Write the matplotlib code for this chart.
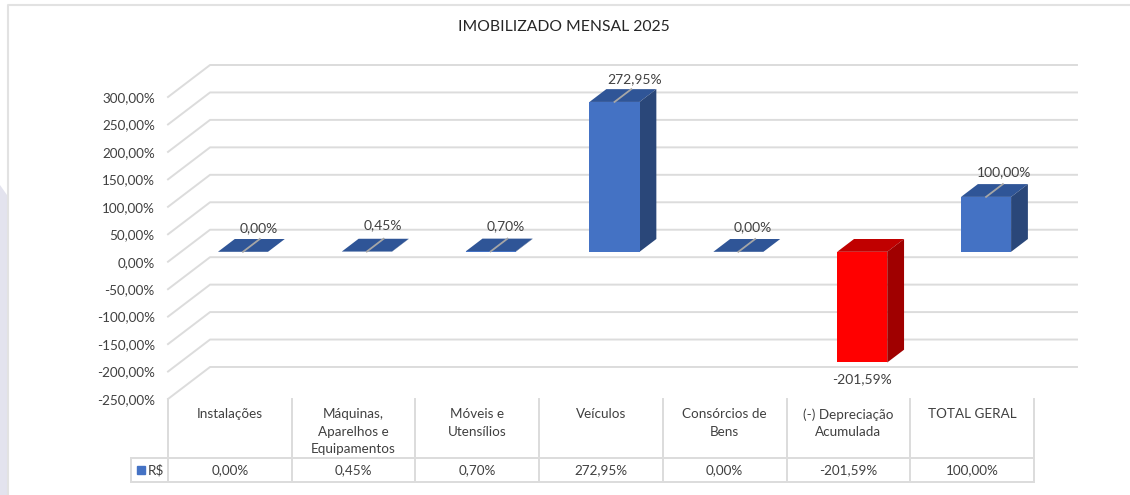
import matplotlib
matplotlib.use("Agg")
import matplotlib.pyplot as plt
from matplotlib.lines import Line2D
from matplotlib.patches import Polygon

plt.rcParams["font.family"] = ["Lato", "DejaVu Sans"]

# dados
categorias = ["Instalações", "Máquinas,\nAparelhos e\nEquipamentos", "Móveis e\nUtensílios",
              "Veículos", "Consórcios de\nBens", "(-) Depreciação\nAcumulada", "TOTAL GERAL"]
valores = [0.00, 0.45, 0.70, 272.95, 0.00, -201.59, 100.00]
rotulos = ["0,00%", "0,45%", "0,70%", "272,95%", "0,00%", "-201,59%", "100,00%"]
y_ticks = [300, 250, 200, 150, 100, 50, 0, -50, -100, -150, -200, -250]
y_labels = ["300,00%", "250,00%", "200,00%", "150,00%", "100,00%", "50,00%", "0,00%",
            "-50,00%", "-100,00%", "-150,00%", "-200,00%", "-250,00%"]
# deslocamento dos rotulos em pixels
rot_dx = [-1, -1, -2, 3, -2, -17, 1]
rot_dy = [11, 14, 12, 10, 12, -29, 12]

W, H = 1130, 495
TXT = "#404040"
GRADE = "#dcdcdc"
FS = 9.7

# perspectiva: quanto o fundo do grafico anda em x e y
DX = 42 / 123.7
DY = 58.3
D0, D1 = 0.31, 0.71
LARG = 0.404


def caixa(esq, topo, dir, base):
    return [esq / W, 1 - base / H, (dir - esq) / W, (base - topo) / H]


def proj(x, y, d):
    return x + d * DX, y + d * DY


fig = plt.figure(figsize=(W / 100, H / 100), dpi=100)

# moldura e fundo lilas da esquerda
fig.add_artist(Polygon([(0, 1 - 185 / H), (7 / W, 1 - 195 / H), (7 / W, 0), (0, 0)],
                       closed=True, fc="#e3e3ee", ec="none", transform=fig.transFigure))
fig.add_artist(Line2D([7.5 / W, 7.5 / W, 1], [0, 1 - 5 / H, 1 - 5 / H], color="#e2e2e2", lw=1.5))

ax = fig.add_axes(caixa(168, 65, 1077, 399))
ax.set_xlim(-0.5, 6.5 + DX)
ax.set_ylim(-250, 300 + DY)
ax.patch.set_alpha(0)
for s in ax.spines.values():
    s.set_visible(False)
ax.set_xticks([])
ax.set_yticks(y_ticks)
ax.set_yticklabels(y_labels, fontsize=FS, color=TXT)
ax.tick_params(axis="y", length=0, pad=9.5)

# grade
for t in y_ticks:
    xb, yb = proj(-0.5, t, 1)
    ax.plot([-0.5, xb, 6.5 + DX], [t, yb, yb], color=GRADE, lw=1.4, clip_on=False, zorder=1)

# barras 3d
for i, v in enumerate(valores):
    frente, topo, lado = "#4472c4", "#2f5597", "#2a4779"
    if v < 0:
        frente, topo, lado = "#ff0000", "#c00000", "#a00000"
    e = i - LARG / 2
    d = i + LARG / 2
    t = max(v, 0)  # a tampa fica sempre no lado de cima da barra
    ax.fill([proj(e, t, D0)[0], proj(d, t, D0)[0], proj(d, t, D1)[0], proj(e, t, D1)[0]],
            [proj(e, t, D0)[1], proj(d, t, D0)[1], proj(d, t, D1)[1], proj(e, t, D1)[1]],
            color=topo, lw=0, zorder=3)
    ax.fill([proj(d, 0, D0)[0], proj(d, 0, D1)[0], proj(d, v, D1)[0], proj(d, v, D0)[0]],
            [proj(d, 0, D0)[1], proj(d, 0, D1)[1], proj(d, v, D1)[1], proj(d, v, D0)[1]],
            color=lado, lw=0, zorder=3)
    ax.bar(i + D0 * DX, v, bottom=D0 * DY, width=LARG, color=frente, lw=0, zorder=4)
    # linha guia e rotulo
    x0, y0 = proj(i, v, D0)
    x1, y1 = proj(i, v, D1)
    if v >= 0:
        ax.plot([x0, x1], [y0, y1], color="#a6a6a6", lw=1.3, zorder=5)
    ax.annotate(rotulos[i], (x1, y1), xytext=(rot_dx[i] * 0.72, rot_dy[i] * 0.72),
                textcoords="offset points", ha="center", va="center",
                fontsize=10, color=TXT, zorder=6)

fig.text(563.5 / W, 1 - 27 / H, "IMOBILIZADO MENSAL 2025", ha="center", va="center",
         fontsize=11.3, color="#262626")

# tabela de dados
tb = fig.add_axes(caixa(131, 399, 1034, 482))
tb.set_xlim(-0.5 - 37 / 123.7, 6.5)
tb.set_ylim(83, 0)
tb.axis("off")
x_ini = -0.5 - 37 / 123.7
for i in range(8):
    tb.plot([i - 0.5, i - 0.5], [0, 83], color=GRADE, lw=1.4, clip_on=False)
tb.plot([x_ini, x_ini], [59, 83], color=GRADE, lw=1.4, clip_on=False)
tb.plot([x_ini, 6.5], [59, 59], color=GRADE, lw=1.4, clip_on=False)
tb.plot([x_ini, 6.5], [83, 83], color=GRADE, lw=1.4, clip_on=False)
for i in range(7):
    tb.text(i, 9, categorias[i], ha="center", va="top", fontsize=FS, color=TXT, linespacing=1.55)
    tb.text(i, 71, rotulos[i], ha="center", va="center", fontsize=FS, color=TXT)
tb.plot([x_ini + 10 / 123.7], [71], marker="s", ms=5.5, color="#4472c4", clip_on=False)
tb.text(x_ini + 17 / 123.7, 71, "R$", ha="left", va="center", fontsize=FS, color=TXT)

fig.savefig("out.png", dpi=100, facecolor="white")
